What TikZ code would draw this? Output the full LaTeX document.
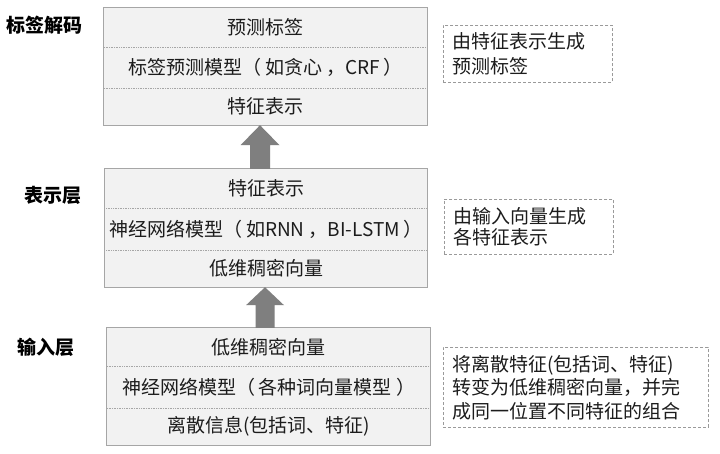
\documentclass[tikz,border=0pt]{standalone}
\usepackage{fontspec}
\setmainfont{Noto Sans CJK SC}
\usetikzlibrary{calc}
\definecolor{boxfill}{HTML}{F2F2F2}
\definecolor{boxline}{HTML}{A6A6A6}
\definecolor{txt}{HTML}{1C1C1C}
\definecolor{arrowfill}{HTML}{7F7F7F}
\definecolor{noteline}{HTML}{9A9A9A}
\newcommand{\myLP}{（\kern4pt}
\newcommand{\myRP}{\kern4pt）}
\newcommand{\myCM}{\kern4pt，}
\begin{document}
\begin{tikzpicture}[x=1pt,y=-1pt,
  row/.style={fill=boxfill, minimum width=323pt, inner sep=0pt, text=txt,
    font=\fontsize{19}{22}\selectfont},
  outer/.style={draw=boxline, line width=0.8pt},
  divider/.style={draw=boxline, densely dotted, line width=0.7pt},
  note/.style={draw=noteline, dash pattern=on 3pt off 2pt, line width=0.8pt,
    align=left, text=txt, inner xsep=9pt, inner ysep=0pt, anchor=north west},
  layer/.style={font=\fontsize{19}{22}\selectfont\bfseries, text=black},
  bigarrow/.style={fill=arrowfill}]
\useasboundingbox[fill=white] (0,0) rectangle (720,454);

% box 1
\node[row, minimum height=39pt] (a1) at (265.5,27.5) {预测标签};
\node[row, minimum height=41pt] (a2) at (265.5,67.5) {标签预测模型\myLP 如贪心\myCM CRF\myRP};
\node[row, minimum height=37pt] (a3) at (265.5,106.5) {特征表示};
\draw[outer] (a1.north west) rectangle (a3.south east);
\draw[divider] (a1.south west) -- (a1.south east);
\draw[divider] (a2.south west) -- (a2.south east);

% box 2
\node[row, minimum height=39pt] (b1) at (266,188.5) {特征表示};
\node[row, minimum height=42pt] (b2) at (266,229) {神经网络模型\myLP 如RNN\myCM BI-LSTM\myRP};
\node[row, minimum height=37pt] (b3) at (266,268.5) {低维稠密向量};
\draw[outer] (b1.north west) rectangle (b3.south east);
\draw[divider] (b1.south west) -- (b1.south east);
\draw[divider] (b2.south west) -- (b2.south east);

% box 3
\node[row, minimum height=38pt] (c1) at (268.5,347) {低维稠密向量};
\node[row, minimum height=42pt] (c2) at (268.5,387) {神经网络模型\myLP 各种词向量模型\myRP};
\node[row, minimum height=37pt] (c3) at (268.5,426.5) {离散信息(包括词、特征)};
\draw[outer] (c1.north west) rectangle (c3.south east);
\draw[divider] (c1.south west) -- (c1.south east);
\draw[divider] (c2.south west) -- (c2.south east);

% arrows
\coordinate (t1) at ($(a3.south)+(-5.5,0)$);
\coordinate (s1) at (t1 |- b1.north);
\fill[bigarrow] (t1) -- ($(t1)+(19.5,20)$) -- ($(t1)+(10,20)$) -- ($(s1)+(10,0)$)
  -- ($(s1)+(-10,0)$) -- ($(t1)+(-10,20)$) -- ($(t1)+(-19.5,20)$) -- cycle;
\coordinate (t2) at ($(b3.south)+(-1,0)$);
\coordinate (s2) at (t2 |- c1.north);
\fill[bigarrow] (t2) -- ($(t2)+(19,18)$) -- ($(t2)+(9.5,18)$) -- ($(s2)+(9.5,0)$)
  -- ($(s2)+(-9.5,0)$) -- ($(t2)+(-9.5,18)$) -- ($(t2)+(-19,18)$) -- cycle;

% layer labels
\node[layer] (l1) at (44.5,25) {标签解码};
\node[layer] (l2) at (52.5,195) {表示层};
\node[layer] (l3) at (46,347) {输入层};

% notes
\node[note, minimum height=57pt, text width=151pt,
  font=\fontsize{19}{25}\selectfont] (n1) at (443,25)
  {由特征表示生成\\预测标签};
\node[note, minimum height=55pt, text width=151pt,
  font=\fontsize{19}{21.5}\selectfont] (n2) at (444,199)
  {由输入向量生成\\各特征表示};
\node[note, minimum height=80pt, text width=247pt,
  font=\fontsize{19}{23.5}\selectfont] (n3) at (443,347)
  {将离散特征(包括词、特征)\\转变为低维稠密向量，并完\\成同一位置不同特征的组合};
\end{tikzpicture}
\end{document}
